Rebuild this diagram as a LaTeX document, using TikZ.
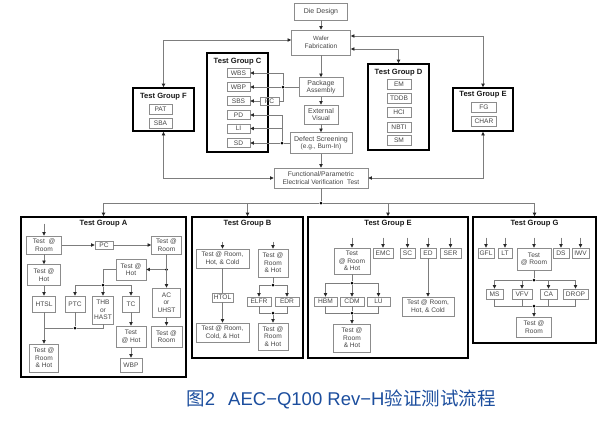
\documentclass[tikz,border=0pt]{standalone}
\usepackage{fontspec}
\setmainfont{Liberation Sans}
\newfontfamily\cjk{Noto Sans CJK SC}
\usetikzlibrary{arrows.meta}
\definecolor{boxgray}{RGB}{140,140,140}
\definecolor{txtgray}{RGB}{70,70,70}
\definecolor{linegray}{RGB}{125,125,125}
\definecolor{capblue}{RGB}{28,78,158}
\newcommand\mybox[6]{\node[sb,minimum width=#4pt,minimum height=#5pt] (#1) at (#2,#3) {#6};}
\newcommand\mygrp[5]{\node[grp,minimum width=#4pt,minimum height=#5pt] (#1) at (#2,#3) {};}
\begin{document}
\begin{tikzpicture}[x=1pt,y=-1pt,
  >={Triangle[length=3.6pt,width=3.4pt,color=black!85]},
  sb/.style={draw=boxgray,line width=0.6pt,inner sep=0pt,align=center,text=txtgray,font=\fontsize{6.6}{7.6}\selectfont},
  grp/.style={draw=black,line width=1.5pt,inner sep=0pt},
  ttl/.style={font=\bfseries\fontsize{7.6}{9}\selectfont,text=black!90,inner sep=0pt},
  ln/.style={draw=linegray,line width=0.7pt},
  conn/.style={ln,->},
  bi/.style={ln,<->},
  dot/.style={circle,fill=black,inner sep=0pt,minimum size=3pt}]
\fill[white] (0,0) rectangle (616,424);
\useasboundingbox (0,0) rectangle (616,424);

% ---------- top flow ----------
\mybox{die}{321}{11.5}{53}{17}{\fontsize{7}{8}\selectfont Die Design}
\mybox{wafer}{321}{42.5}{59}{25}{\fontsize{6}{7.5}\selectfont Wafer\\Fabrication}
\mybox{pkg}{321}{87}{44}{19}{\fontsize{7}{8}\selectfont Package\\Assembly}
\mybox{ext}{321}{114.5}{34}{19}{\fontsize{7}{8}\selectfont External\\Visual}
\mybox{defect}{321}{143}{62}{21}{\fontsize{7}{8.5}\selectfont Defect Screening\\(e.g., Burn-In)}
\mybox{func}{321}{178}{94}{20}{\fontsize{6.8}{8.5}\selectfont Functional/Parametric\\Electrical Verification\ \ Test}

% Group C
\mygrp{grpC}{237.5}{102.5}{61}{99}
\node[ttl] (tC) at (237.5,62) {Test Group C};
\mybox{wbs}{238.5}{73}{23}{9}{WBS}
\mybox{wbp}{238.5}{87}{23}{9}{WBP}
\mybox{sbs}{238.5}{101}{23}{9}{SBS}
\mybox{pd}{238.5}{115}{23}{9}{PD}
\mybox{li}{238.5}{128.5}{23}{9}{LI}
\mybox{sd}{238.5}{143}{23}{9}{SD}
\mybox{pc}{269.5}{101}{19}{8}{PC}

% Group D
\mygrp{grpD}{398.5}{107}{61}{86}
\node[ttl] (tD) at (398.5,73) {Test Group D};
\mybox{em}{399}{84}{24}{10}{EM}
\mybox{tddb}{399}{98.5}{24}{10}{TDDB}
\mybox{hci}{399}{112}{24}{10}{HCI}
\mybox{nbti}{399}{127}{24}{10}{NBTI}
\mybox{sm}{399}{140.5}{24}{10}{SM}

% Group F
\mygrp{grpF}{163.5}{109.5}{61}{43}
\node[ttl] (tF) at (163.5,97) {Test Group F};
\mybox{pat}{160.5}{109}{23}{10}{PAT}
\mybox{sba}{160.5}{123}{23}{10}{SBA}

% Group E (top)
\mygrp{grpEt}{483}{109.5}{60}{43}
\node[ttl] (tEt) at (483,95) {Test Group E};
\mybox{fg}{484}{107}{25}{10}{FG}
\mybox{char}{484}{121}{25}{10}{CHAR}

% top connectors
\draw[conn] (die.south) -- (wafer.north);
\draw[conn] (wafer.south) -- (pkg.north);
\draw[conn] (pkg.south) -- (ext.north);
\draw[conn] (ext.south) -- (defect.north);
\draw[conn] (defect.south) -- (func.north);
\draw[bi] ([yshift=2.5pt]wafer.west) -| (grpF.north);
\draw[bi] (grpF.south) |- (func.west);
\draw[bi] ([yshift=6.5pt]wafer.east) -| (grpEt.north);
\draw[bi] ([yshift=-6.5pt]wafer.east) -| (grpD.north);
\draw[bi] (grpEt.south) |- (func.east);

% Group C connectors
\node[dot] (d1) at (283,87) {};
\draw[ln] (pkg.west) -- (d1);
\draw[conn] (d1) -- (wbp.east);
\draw[conn] (d1) |- (wbs.east);
\draw[ln] (d1) |- (pc.east);
\draw[conn] (pc.west) -- (sbs.east);
\node[dot] (d2) at (282,143) {};
\draw[ln] (defect.west) -- (d2);
\draw[conn] (d2) -- (sd.east);
\draw[conn] (d2) |- (pd.east);
\draw[conn] (d2) |- (li.east);

% bus
\node[dot] (bus) at (321,203) {};
\draw[ln] (func.south) -- (bus);

% ---------- bottom groups ----------
\mygrp{grpA}{103.5}{297}{165}{160}
\mygrp{grpB}{247.5}{287.5}{111}{141}
\mygrp{grpE}{388}{287.5}{160}{141}
\mygrp{grpG}{534.5}{280}{123}{126}
\draw[conn] (bus) -| (grpA.north);
\draw[conn] (bus) -| (grpB.north);
\draw[conn] (bus) -| (grpE.north);
\draw[conn] (bus) -| (grpG.north);

% Group A
\node[ttl] (tA) at (103.5,224) {Test Group A};
\mybox{ta1}{44}{245}{35}{18}{Test\ \ @\\Room}
\mybox{pcA}{104}{245}{18}{8}{PC}
\mybox{ta2}{166.5}{245}{30}{18}{Test @\\Room}
\mybox{th1}{44}{275}{33}{21}{Test @\\Hot}
\mybox{htsl}{44}{304}{23}{16}{HTSL}
\mybox{th2}{131}{269.5}{30}{21}{Test @\\Hot}
\mybox{ac}{166.5}{302.5}{28}{29}{AC\\or\\UHST}
\mybox{tr3}{166.5}{336.5}{31}{21}{Test @\\Room}
\mybox{ptc}{75}{304}{20}{16}{PTC}
\mybox{thb}{103}{310}{21}{28}{THB\\or\\HAST}
\mybox{tc}{131}{304}{17}{16}{TC}
\mybox{tra}{44}{358}{29}{28}{Test @\\Room\\\& Hot}
\mybox{th3}{131}{336.5}{30}{21}{Test\\@ Hot}
\mybox{wbpA}{131}{365}{22}{14}{WBP}
\draw[conn] ([yshift=12pt]ta1.north) -- (ta1.north);
\draw[conn] (ta1.east) -- (pcA.west);
\draw[conn] (pcA.east) -- (ta2.west);
\draw[conn] (ta1.south) -- (th1.north);
\draw[conn] (th1.south) -- (htsl.north);
\node[dot] (dA1) at (ta2.south |- th2.east) {};
\draw[conn] (ta2.south) -- (ac.north);
\draw[conn] (dA1) -- (th2.east);
\draw[conn] (ac.south) -- (tr3.north);
\node[dot] (dA2) at (103,285) {};
\draw[ln] (th2.west) -| (dA2);
\draw[conn] (dA2) -| (ptc.north);
\draw[conn] (dA2) -| (tc.north);
\draw[conn] (dA2) -- (thb.north);
\node[dot] (dA3) at (75,328) {};
\draw[ln] (ptc.south) -- (dA3);
\draw[ln] (thb.south) |- (dA3);
\draw[ln] (dA3) -- (htsl.south |- dA3);
\draw[conn] (htsl.south) -- (tra.north);
\draw[conn] (tc.south) -- (th3.north);
\draw[conn] (th3.south) -- (wbpA.north);

% Group B
\node[ttl] (tB) at (247.5,224) {Test Group B};
\mybox{bt1}{222.5}{258.5}{53}{19}{Test @ Room,\\Hot, \& Cold}
\mybox{bt2}{273}{263}{30}{28}{Test @\\Room\\\& Hot}
\mybox{htol}{222.5}{297.5}{21}{9}{HTOL}
\mybox{elfr}{259}{301.5}{24}{9}{ELFR}
\mybox{edr}{287}{301.5}{24}{9}{EDR}
\mybox{bt3}{222.5}{332.5}{53}{19}{Test @ Room,\\Cold, \& Hot}
\mybox{bt4}{273}{336.5}{30}{27}{Test @\\Room\\\& Hot}
\draw[conn] ([yshift=7pt]bt1.north) -- (bt1.north);
\draw[conn] ([yshift=7pt]bt2.north) -- (bt2.north);
\draw[ln] (bt1.south) -- (htol.north);
\draw[conn] (htol.south) -- (bt3.north);
\node[dot] (dB1) at (273,285) {};
\draw[ln] (bt2.south) -- (dB1);
\draw[conn] (dB1) -| (elfr.north);
\draw[conn] (dB1) -| (edr.north);
\node[dot] (dB2) at (273,313) {};
\draw[ln] (elfr.south) |- (dB2);
\draw[ln] (edr.south) |- (dB2);
\draw[conn] (dB2) -- (bt4.north);

% Group E (bottom)
\node[ttl] (tE) at (388,224) {Test Group E};
\mybox{et1}{352}{261}{36}{26}{Test\\@ Room\\\& Hot}
\mybox{emc}{383}{253}{20}{10}{EMC}
\mybox{sc}{407.5}{253}{15}{10}{SC}
\mybox{ed}{428}{253}{16}{10}{ED}
\mybox{ser}{450.5}{253}{21}{10}{SER}
\mybox{et2}{428}{306.5}{52}{19}{Test @ Room,\\Hot, \& Cold}
\mybox{hbm}{325.5}{301.5}{23}{9}{HBM}
\mybox{cdm}{352}{301.5}{24}{9}{CDM}
\mybox{lu}{378.5}{301.5}{23}{9}{LU}
\mybox{et3}{352}{338}{37}{28}{Test @\\Room\\\& Hot}
\foreach \n in {et1,emc,sc,ed,ser} {\draw[conn] ([yshift=10pt]\n.north) -- (\n.north);}
\draw[conn] (ed.south) -- (et2.north);
\node[dot] (dE1) at (352,283) {};
\draw[ln] (et1.south) -- (dE1);
\draw[conn] (dE1) -| (hbm.north);
\draw[conn] (dE1) -- (cdm.north);
\draw[conn] (dE1) -| (lu.north);
\node[dot] (dE2) at (352,313) {};
\draw[ln] (hbm.south) |- (dE2);
\draw[ln] (lu.south) |- (dE2);
\draw[ln] (cdm.south) -- (dE2);
\draw[conn] (dE2) -- (et3.north);

% Group G
\node[ttl] (tG) at (534.5,224) {Test Group G};
\mybox{gfl}{486}{253}{16}{10}{GFL}
\mybox{lt}{505}{253}{14}{10}{LT}
\mybox{gt1}{534}{259}{34}{22}{Test\\@ Room}
\mybox{ds}{561}{253}{16}{10}{DS}
\mybox{iwv}{580.5}{253}{17}{10}{IWV}
\mybox{ms}{494.5}{294}{17}{10}{MS}
\mybox{vfv}{522}{294}{20}{10}{VFV}
\mybox{ca}{548.5}{294}{17}{10}{CA}
\mybox{drop}{575.5}{294}{25}{10}{DROP}
\mybox{gt2}{534}{327}{35}{20}{Test @\\Room}
\foreach \n in {gfl,lt,gt1,ds,iwv} {\draw[conn] ([yshift=10pt]\n.north) -- (\n.north);}
\node[dot] (dG1) at (534,280) {};
\draw[ln] (gt1.south) -- (dG1);
\foreach \n in {ms,vfv,ca,drop} {\draw[conn] (dG1) -| (\n.north);}
\node[dot] (dG2) at (534,306) {};
\foreach \n in {ms,vfv,ca,drop} {\draw[ln] (\n.south) |- (dG2);}
\draw[conn] (dG2) -- (gt2.north);

% caption
\node[font=\fontsize{18.5}{21}\selectfont,text=capblue,inner sep=0pt] (cap) at (341,399) {{\cjk 图}2\hspace{13pt}AEC−Q100 Rev−H{\cjk 验证测试流程}};
\end{tikzpicture}
\end{document}
